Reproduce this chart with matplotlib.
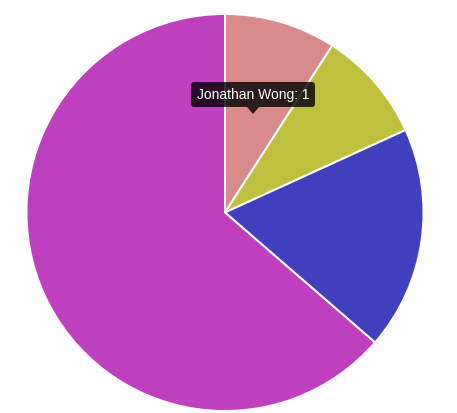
import matplotlib
matplotlib.use("Agg")
import matplotlib.pyplot as plt
from matplotlib.patches import FancyBboxPatch, Polygon

labels = ["Jonathan Wong", "Slice 2", "Slice 3", "Slice 4"]
values = [1, 1, 2, 7]
colors = ["#d98b8b", "#bfbf40", "#4040bf", "#bf40bf"]

tooltip_label = labels[0]
tooltip_value = values[0]

W, H = 457, 413
fig = plt.figure(figsize=(W / 100, H / 100), dpi=100)
ax = fig.add_axes([0, 0, 1, 1])
ax.set_xlim(0, W)
ax.set_ylim(0, H)
ax.set_aspect("equal")
ax.axis("off")

cx, cy, r = 225, H - 212.5, 198.5
ax.pie(values, colors=colors, startangle=90, counterclock=False,
       center=(cx, cy), radius=r,
       wedgeprops=dict(edgecolor="white", linewidth=1.4), frame=True)
ax.set_xlim(0, W)
ax.set_ylim(0, H)
ax.axis("off")

# tooltip
bx0, bx1 = 191, 315
by0, by1 = H - 107, H - 82
box = FancyBboxPatch((bx0 + 3, by0 + 3), (bx1 - bx0) - 6, (by1 - by0) - 6,
                     boxstyle="round,pad=3", facecolor=(0, 0, 0, 0.8),
                     edgecolor="none", zorder=5)
ax.add_patch(box)
tipx = 253
caret = Polygon([(tipx - 6, by0), (tipx + 6, by0), (tipx, H - 114)],
                closed=True, facecolor=(0, 0, 0, 0.8), edgecolor="none", zorder=5)
ax.add_patch(caret)
ax.text((bx0 + bx1) / 2, (by0 + by1) / 2, f"{tooltip_label}: {tooltip_value}",
        color="white", fontsize=10, family="Liberation Sans",
        ha="center", va="center", zorder=6)

fig.savefig("out.png", dpi=100)
